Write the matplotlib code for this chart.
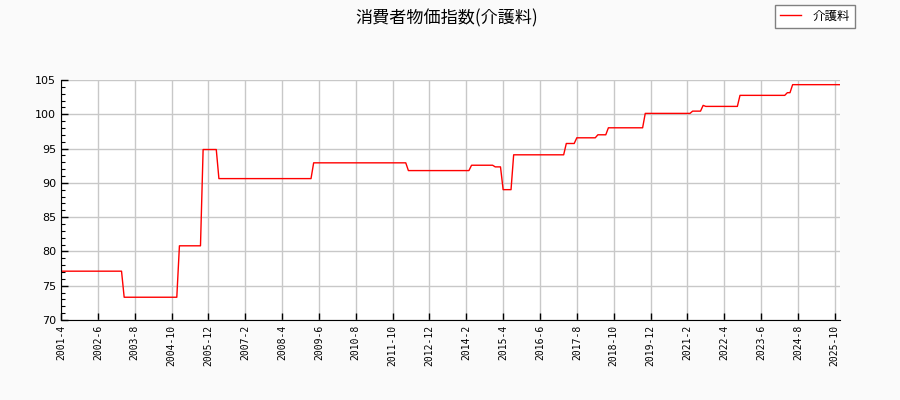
import matplotlib
matplotlib.use("Agg")
import matplotlib.pyplot as plt
from matplotlib.ticker import MultipleLocator
import numpy as np

plt.rcParams['font.family'] = ['Noto Sans CJK JP', 'DejaVu Sans']

# index level: each level holds from its start month
# until the next start month
start_months = ["2001-4", "2003-4", "2005-1", "2005-10", "2006-4", "2009-4",
                "2012-4", "2014-4", "2015-1", "2015-4", "2015-8", "2017-4",
                "2017-8", "2018-4", "2018-8", "2019-10", "2021-4", "2021-8",
                "2021-9", "2022-10", "2024-4", "2024-6"]
levels = [77.12, 73.32, 80.82, 94.86, 90.62, 92.92,
          91.79, 92.57, 92.33, 89.01, 94.09, 95.74,
          96.57, 97.01, 98.03, 100.13, 100.46, 101.30,
          101.15, 102.76, 103.15, 104.32]
last_month = "2025-12"
series_name = "介護料"
title = "消費者物価指数(介護料)"


def month_no(s):
    y, m = s.split("-")
    return int(y) * 12 + int(m) - 1


first = month_no(start_months[0])
months = list(range(first, month_no(last_month) + 1))
labels = ["%d-%d" % (m // 12, m % 12 + 1) for m in months]
values = []
k = 0
for m in months:
    while k + 1 < len(start_months) and m >= month_no(start_months[k + 1]):
        k += 1
    values.append(levels[k])

x = np.arange(len(months))

fig = plt.figure(figsize=(9, 4), dpi=100, facecolor="#fafafa")
ax = fig.add_axes([61 / 900, 80 / 400, (840 - 61) / 900, 240 / 400])
ax.set_facecolor("white")

ax.plot(x, values, color="red", lw=1, label=series_name)

ax.set_xlim(0, len(months) - 1)
ax.set_ylim(70, 105)
ax.set_xticks(x[::14])
ax.set_xticklabels(labels[::14], rotation=90, fontsize=7,
                   family="DejaVu Sans Mono")
ax.yaxis.set_major_locator(MultipleLocator(5))
ax.yaxis.set_minor_locator(MultipleLocator(1))
for lab in ax.get_yticklabels():
    lab.set_fontsize(8)
    lab.set_family("DejaVu Sans")
ax.tick_params(direction="in", length=5, width=1)
ax.tick_params(which="minor", direction="in", length=3, width=0.8)
ax.grid(True, color="#c8c8c8", lw=1)
ax.set_axisbelow(True)
ax.spines["top"].set_visible(False)
ax.spines["right"].set_visible(False)

fig.suptitle(title, x=447 / 900, y=1 - 18 / 400, va="center", fontsize=12.3)
fig.legend(loc="upper right", bbox_to_anchor=(855 / 900, 1 - 4.5 / 400),
           fontsize=9, fancybox=False, edgecolor="#808080",
           framealpha=1, borderaxespad=0, handlelength=1.7,
           handletextpad=0.9, borderpad=0.4)

fig.savefig("out.png", dpi=100, facecolor=fig.get_facecolor())
